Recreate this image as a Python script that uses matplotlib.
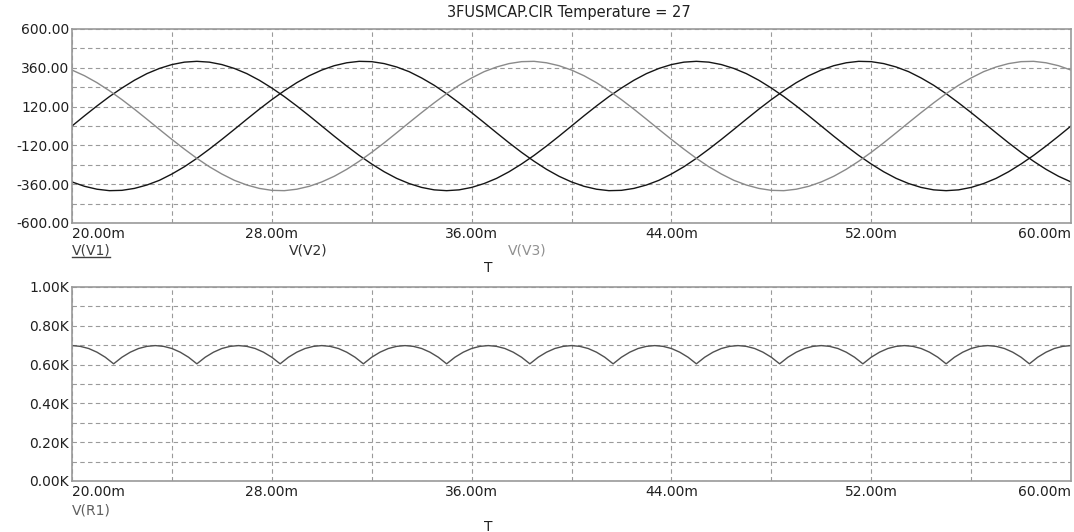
import numpy as np
import matplotlib.pyplot as plt
from matplotlib.lines import Line2D

# Temps (ms) pour les trois tensions de phase, pas de 0.5 ms
t_ph = np.linspace(20, 60, 81)

v1 = [0, 63, 124, 182, 235, 283, 324, 356, 380, 395, 400, 395, 380, 356, 324, 283, 235, 182, 124, 63,
      0, -63, -124, -182, -235, -283, -324, -356, -380, -395, -400, -395, -380, -356, -324, -283, -235, -182, -124, -63,
      0, 63, 124, 182, 235, 283, 324, 356, 380, 395, 400, 395, 380, 356, 324, 283, 235, 182, 124, 63,
      0, -63, -124, -182, -235, -283, -324, -356, -380, -395, -400, -395, -380, -356, -324, -283, -235, -182, -124, -63,
      0]
v2 = [-346, -373, -391, -400, -398, -386, -365, -336, -297, -252, -200, -143, -83, -21, 42, 104, 163, 218, 268, 311,
      346, 373, 391, 400, 398, 386, 365, 336, 297, 252, 200, 143, 83, 21, -42, -104, -163, -218, -268, -311,
      -346, -373, -391, -400, -398, -386, -365, -336, -297, -252, -200, -143, -83, -21, 42, 104, 163, 218, 268, 311,
      346, 373, 391, 400, 398, 386, 365, 336, 297, 252, 200, 143, 83, 21, -42, -104, -163, -218, -268, -311,
      -346]
v3 = [346, 311, 268, 218, 163, 104, 42, -21, -83, -143, -200, -252, -297, -336, -365, -386, -398, -400, -391, -373,
      -346, -311, -268, -218, -163, -104, -42, 21, 83, 143, 200, 252, 297, 336, 365, 386, 398, 400, 391, 373,
      346, 311, 268, 218, 163, 104, 42, -21, -83, -143, -200, -252, -297, -336, -365, -386, -398, -400, -391, -373,
      -346, -311, -268, -218, -163, -104, -42, 21, 83, 143, 200, 252, 297, 336, 365, 386, 398, 400, 391, 373,
      346]

# Tension redressee V(R1), pas de 1/3 ms
t_r1 = np.linspace(20, 60, 121)
v_r1 = [698, 694, 683, 664, 638, 604, 638, 664, 683, 694,
        698, 694, 683, 664, 638, 604, 638, 664, 683, 694,
        698, 694, 683, 664, 638, 604, 638, 664, 683, 694,
        698, 694, 683, 664, 638, 604, 638, 664, 683, 694,
        698, 694, 683, 664, 638, 604, 638, 664, 683, 694,
        698, 694, 683, 664, 638, 604, 638, 664, 683, 694,
        698, 694, 683, 664, 638, 604, 638, 664, 683, 694,
        698, 694, 683, 664, 638, 604, 638, 664, 683, 694,
        698, 694, 683, 664, 638, 604, 638, 664, 683, 694,
        698, 694, 683, 664, 638, 604, 638, 664, 683, 694,
        698, 694, 683, 664, 638, 604, 638, 664, 683, 694,
        698, 694, 683, 664, 638, 604, 638, 664, 683, 694,
        698]

x_major = [20, 28, 36, 44, 52, 60]
x_labels = ['20.00m', '28.00m', '36.00m', '44.00m', '52.00m', '60.00m']
y1_major = [-600, -360, -120, 120, 360, 600]
y1_labels = ['-600.00', '-360.00', '-120.00', '120.00', '360.00', '600.00']
y2_major = [0, 200, 400, 600, 800, 1000]
y2_labels = ['0.00K', '0.20K', '0.40K', '0.60K', '0.80K', '1.00K']

W, H = 1074, 532
fig = plt.figure(figsize=(W/100, H/100), dpi=100)
ax1 = fig.add_axes([72/W, 1-223/H, 999/W, 194/H])
ax2 = fig.add_axes([72/W, 1-481/H, 999/W, 194/H])

def habille(ax, ymaj, ylab, ystep):
    ax.set_xlim(20, 60)
    ax.set_ylim(ymaj[0], ymaj[-1])
    ax.set_xticks(x_major)
    ax.set_xticklabels(x_labels)
    ax.set_xticks(np.arange(20, 61, 4), minor=True)
    ax.set_yticks(ymaj)
    ax.set_yticklabels(ylab)
    ax.set_yticks(np.arange(ymaj[0], ymaj[-1]+1, ystep), minor=True)
    ax.grid(which='both', color='#9a9a9a', linestyle=(0, (4, 3)), linewidth=0.8)
    ax.tick_params(which='both', length=0, labelsize=10, labelcolor='#202020')
    ax.tick_params(axis='x', pad=3)
    ax.tick_params(axis='y', pad=2)
    lab = ax.get_xticklabels()
    lab[0].set_ha('left')
    lab[-1].set_ha('right')
    for s in ax.spines.values():
        s.set_color('#999999')
        s.set_linewidth(1.2)

habille(ax1, y1_major, y1_labels, 120)
habille(ax2, y2_major, y2_labels, 100)

ax1.plot(t_ph, v1, color='#151515', linewidth=1.0)
ax1.plot(t_ph, v2, color='#151515', linewidth=1.0)
ax1.plot(t_ph, v3, color='#8a8a8a', linewidth=1.0)
ax2.plot(t_r1, v_r1, color='#505050', linewidth=1.0)

fig.text(569/W, 1-13/H, '3FUSMCAP.CIR Temperature = 27', ha='center', va='center',
         fontsize=10.5, color='#202020')
fig.text(72/W, 1-250/H, 'V(V1)', ha='left', va='center', fontsize=10, color='#404040')
fig.add_artist(Line2D([72/W, 110/W], [1-257/H, 1-257/H], color='#404040', linewidth=1))
fig.text(289/W, 1-250/H, 'V(V2)', ha='left', va='center', fontsize=10, color='#303030')
fig.text(508/W, 1-251/H, 'V(V3)', ha='left', va='center', fontsize=10, color='#909090')
fig.text(488/W, 1-268/H, 'T', ha='center', va='center', fontsize=10, color='#202020')
fig.text(72/W, 1-510/H, 'V(R1)', ha='left', va='center', fontsize=10, color='#606060')
fig.text(488/W, 1-527/H, 'T', ha='center', va='center', fontsize=10, color='#202020')

fig.savefig('out.png', dpi=100)
